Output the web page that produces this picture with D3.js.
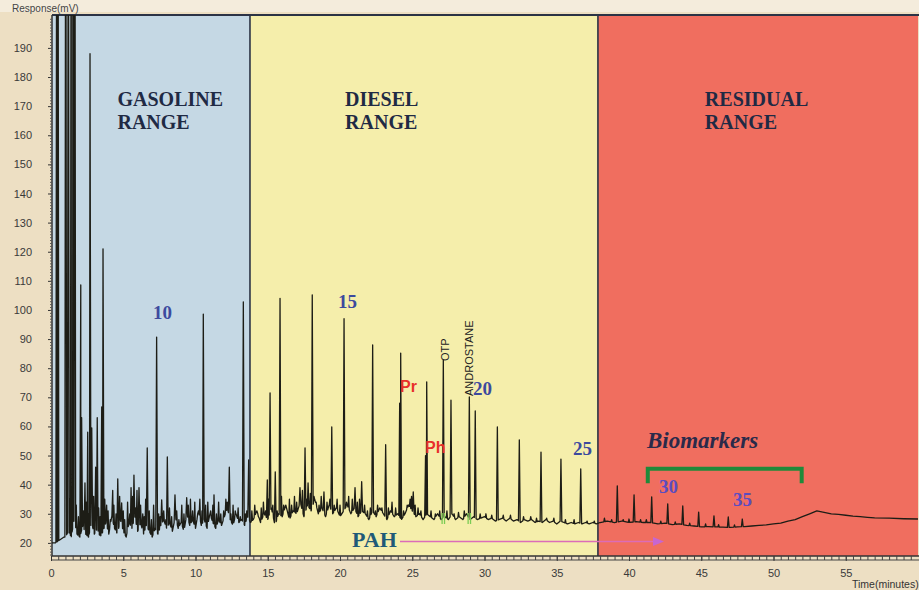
<!DOCTYPE html>
<html><head><meta charset="utf-8">
<script src="https://cdn.jsdelivr.net/npm/d3@7/dist/d3.min.js"></script>
<style>
body{margin:0;background:#efe1c6;}
svg{display:block}
</style>
</head><body>
<svg id="c" width="919" height="590"></svg>
<script>
// ---------------- DATA ----------------
const yTickValues = [20,30,40,50,60,70,80,90,100,110,120,130,140,150,160,170,180,190];
const xTickValues = [0,5,10,15,20,25,30,35,40,45,50,55];
const regionNames = [["GASOLINE","RANGE"],["DIESEL","RANGE"],["RESIDUAL","RANGE"]];
const regionStarts = [0, 13.77, 37.85];
const regionEnds = [13.77, 37.85, 60];
const carbonLabels = ["10","15","20","25","30","35"];
const compoundLabels = ["Pr","Ph"];
const rotatedLabels = ["OTP","ANDROSTANE"];

// baseline of the chromatogram [time (min), response (mV)]
const baseline = [
 [0,20],[0.3,20],[0.6,21],[0.9,22],
 [1.0,22],[1.2,24],[1.4,22],[1.6,28],[1.8,23],[2.0,22],[2.2,26],[2.4,23],[2.6,22],[2.8,27],
 [3.0,23],[3.2,25],[3.4,22],[3.6,24],[3.8,27],[4.0,23],[4.2,29],[4.4,25],[4.6,23],[4.8,28],
 [5.0,24],[5.2,22],[5.4,27],[5.6,25],[5.8,29],[6.0,24],[6.2,27],[6.4,23],[6.6,26],[6.8,24],
 [7.0,22],[7.2,25],[7.4,23],[7.6,26],[7.8,28],[8.0,25],[8.2,27],[8.4,24],[8.6,29],[8.8,25],
 [9.0,27],[9.2,24],[9.4,30],[9.6,26],[9.8,28],[10.0,25],[10.2,31],[10.4,26],[10.6,28],[10.8,25],
 [11.0,30],[11.2,27],[11.4,25],[11.6,28],[11.8,26],[12.0,29],[12.2,32],[12.4,28],[12.6,26],[12.8,30],
 [13.0,27],[13.2,28],[13.4,26],[13.6,29],[13.8,27],
 [14.0,28],[14.25,31],[14.5,27],[14.75,30],[15.0,28],[15.25,32],[15.5,26],[15.75,30],[16.0,29],[16.25,33],
 [16.5,28],[16.75,31],[17.0,30],[17.25,34],[17.5,29],[17.75,33],[18.0,31],[18.25,35],[18.5,30],[18.75,32],
 [19.0,29],[19.25,33],[19.5,30],[19.75,32],[20.0,29],[20.25,31],[20.5,33],[20.75,30],[21.0,32],[21.25,29],
 [21.5,31],[21.75,30],[22.0,28],[22.25,31],[22.5,29],[22.75,32],[23.0,30],[23.25,28],[23.5,31],[23.75,29],
 [24.0,30],[24.25,28],[24.5,30],[24.75,33],[25.0,31],[25.25,29],[25.5,30],[25.75,28],[26.0,30],[26.25,29],
 [26.5,28],[26.75,30],[27.0,28],[27.25,29],[27.5,28],[27.75,30],[28.0,28],[28.25,29],[28.5,28],[28.75,30],
 [29.0,28],[29.25,29],[29.5,28],[29.75,28.5],[30.0,29],[30.25,28],[30.5,28.5],[30.75,27.5],[31.0,28],[31.25,28.5],
 [31.5,27.5],[31.75,28.5],[32.0,27.5],[32.25,28],[32.5,27],[32.75,28],[33.0,27.5],[33.25,28],[33.5,27],[33.75,27.5],
 [34.0,27],[34.25,28],[34.5,27],[34.75,27.5],[35.0,26.5],[35.25,27.5],[35.5,27],[35.75,26.5],[36.0,27],[36.25,26.5],
 [36.5,27],[36.75,26.5],[37.0,27],[37.25,26.5],[37.5,27],[37.75,26.5],
 [38.0,27],[38.5,27.5],[39.0,27],[39.5,27.5],[40.0,27],[40.5,27.3],[41.0,27],[41.5,27],[42.0,26.5],[42.5,26.8],
 [43.0,26.3],[43.5,26.5],[44.0,26],[44.5,25.8],[45.0,25.5],[45.5,25.6],[46.0,25.5],[46.5,25.4],[47.0,25.3],[47.5,25.5],
 [48.0,25.6],[48.5,25.8],[49.0,26],[49.5,26.2],[50.0,26.5],[50.5,26.8],[51.0,27.5],[51.5,28],[52.0,29],[52.5,30],
 [53.0,31],[53.5,30.5],[54.0,30],[54.5,29.8],[55.0,29.5],[55.5,29.2],[56.0,29],[56.5,28.8],[57.0,28.6],[58.0,28.5],
 [59.0,28.3],[60.0,28.2]
];

// resolved peaks [retention time (min), apex response (mV)]; >201 = off scale
const peaks = [
 [0.4,300],[0.48,300],[1.02,300],[1.2,300],[1.4,300],[1.52,300],[1.65,300],
 [2.06,108.6],[2.12,63],[2.35,40.6],[2.54,58],[2.7,188],[2.82,59.5],[3.09,46],[3.2,63],
 [3.51,66.7],[3.6,121],[3.85,33],[4.27,38],[4.62,42],[4.89,33.7],[5.54,39],[5.74,43.3],
 [6.09,39],[6.35,30],[6.66,52.6],[7.31,90.7],[7.66,34.8],[8.05,49.5],[8.58,36.5],[9.39,35.5],
 [10.54,98.6],[11.28,36.5],[12.34,46],[13.31,102.8],[13.68,48.5],
 [14.97,41.6],[15.16,71.5],[15.52,44.4],[15.85,104],[17.23,39],[17.58,52.6],[17.79,40.6],
 [18.08,105.2],[18.89,37.5],[19.43,59.8],[20.28,97],[21.04,39],[21.5,41],[22.26,88],
 [23.16,53.7],[24.13,68],[24.2,85.2],[25.07,37.5],[25.92,50],[26.0,75.3],[27.15,82.8],
 [27.68,69],[28.95,70.1],[29.36,65.3],[30.89,59.8],[32.41,55.4],[33.91,51.2],[35.29,48.8],[36.66,45.4],
 [39.19,39.6],[40.35,36.5],[41.57,35.8],[42.68,33.4],[43.72,32.7],[44.82,30.6],[45.88,29.3],[46.87,28.9],[47.84,28.2]
];

// small unresolved peaks (noise spikes) [time (min), response (mV)]
const minorPeaks = [
 [1.3,35],[1.45,30],[1.75,33],[1.9,29],[2.25,31],[2.45,34],[2.62,30],[2.95,36],[3.3,32],[3.4,29],
 [3.72,35],[3.95,31],[4.1,28],[4.35,33],[4.5,30],[4.75,36],[5.0,31],[5.1,28],[5.3,34],[5.45,30],
 [5.65,36],[5.85,32],[5.95,38],[6.2,33],[6.45,29],[6.55,35],[6.8,31],[6.95,28],[7.1,33],[7.45,30],
 [7.55,29],[7.8,31],[7.95,28],[8.2,32],[8.35,29],[8.7,31],[8.85,28],[9.05,33],[9.2,30],[9.5,33],
 [9.65,35],[9.8,31],[9.95,34],[10.15,30],[10.3,35],[10.45,31],[10.7,33],[10.85,34],[11.05,31],[11.2,33],
 [11.45,30],[11.6,34],[11.75,30],[11.95,31],[12.1,35],[12.2,34],[12.45,30],[12.6,33],[12.75,31],[12.95,32],
 [13.1,29],[13.45,30],[13.55,31],
 [13.9,31],[14.1,33],[14.35,29],[14.55,32],[14.7,34],[14.85,31],[15.05,35],[15.35,33],[15.65,31],[15.95,36],
 [16.1,33],[16.35,31],[16.5,35],[16.65,33],[16.85,36],[17.0,34],[17.4,38],[17.7,35],[17.95,37],[18.2,36],
 [18.35,34],[18.55,33],[18.7,36],[19.1,34],[19.3,35],[19.6,33],[19.8,35],[20.0,33],[20.45,34],[20.6,36],
 [20.85,35],[21.2,34],[21.35,35],[21.7,33],[21.9,31],[22.1,32],[22.45,31],[22.6,33],[22.9,32],[23.35,32],
 [23.6,34],[23.85,32],[24.4,31],[24.65,33],[24.85,35],[24.95,36],[25.2,33],[25.4,32],[25.6,31],[26.3,31],
 [26.6,30],[26.9,31],[27.4,31],[27.9,30],[28.2,30.5],[28.6,31],[29.7,30],[30.1,30],[30.5,29.5],[31.3,29.5],
 [31.8,29.5],[32.7,29],[33.2,29],[33.6,28.5],[34.3,28.5],[34.8,28.5],[35.6,28],[36.2,28],[37.1,27.5],[37.6,27.5],
 [38.3,28.5],[38.8,28],[39.6,28],[40.0,28.2],[40.8,28],[41.2,28],[42.2,27.5],[43.2,27.2],[44.2,26.8],[45.3,26.5],
 [46.2,26.3],[47.3,26.2]
];

// ---------------- DRAW ----------------
(function(){
const svg = d3.select("#c");
const W = 919, H = 590;
const pLeft = 52, pTop = 15, pRight = 919, pBottom = 556;

const x = d3.scaleLinear().domain([0,60]).range([51,918]);
const y = d3.scaleLinear().domain([15.5,201.3]).range([556,15]);

// background bands
svg.append("rect").attr("x",0).attr("y",0).attr("width",W).attr("height",H).attr("fill","#eddfc3");
svg.append("rect").attr("x",0).attr("y",0).attr("width",W).attr("height",12).attr("fill","#f4ecdc");

const regionColors = ["#c5d8e4","#f5eeab","#f06e5f"];
regionStarts.forEach((s,i)=>{
  const x0 = Math.max(pLeft, x(s)), x1 = Math.min(pRight, x(regionEnds[i]));
  svg.append("rect").attr("x",x0).attr("y",pTop).attr("width",x1-x0).attr("height",pBottom-pTop)
    .attr("fill",regionColors[i]);
});
// region borders
[regionStarts[1], regionStarts[2]].forEach(s=>{
  svg.append("line").attr("x1",x(s)).attr("x2",x(s)).attr("y1",pTop).attr("y2",pBottom)
    .attr("stroke","#2b3345").attr("stroke-width",1.6);
});
svg.append("line").attr("x1",pLeft).attr("x2",pRight).attr("y1",pTop).attr("y2",pTop)
  .attr("stroke","#2b3345").attr("stroke-width",1.8);

// region labels
const labelT = [4.6, 20.35, 45.25];
regionNames.forEach((lines,i)=>{
  lines.forEach((ln,j)=>{
    svg.append("text").attr("x",x(labelT[i])).attr("y",106+j*23)
      .attr("font-family","'Liberation Serif','Times New Roman',serif").attr("font-weight","bold")
      .attr("font-size",20).attr("fill","#1f2a44").text(ln);
  });
});

// axes
const yAxis = svg.append("g").attr("transform",`translate(${pLeft},0)`)
  .call(d3.axisLeft(y).tickValues(yTickValues).tickSize(4).tickPadding(16));
yAxis.selectAll("text").attr("font-family","'Liberation Sans',Arial,sans-serif").attr("font-size",11).attr("fill","#3a3a3a");
yAxis.select(".domain").attr("stroke","#333").attr("stroke-width",1.5).attr("d",`M0,${pTop}V${pBottom}`);
yAxis.selectAll(".tick line").attr("stroke","#333");
const yMinor = d3.range(16,201,1);
svg.append("g").attr("transform",`translate(${pLeft},0)`)
  .call(d3.axisLeft(y).tickValues(yMinor).tickSize(2).tickFormat(""))
  .call(g=>g.select(".domain").remove())
  .selectAll("line").attr("stroke","#555");

const xAxis = svg.append("g").attr("transform",`translate(0,${pBottom})`)
  .call(d3.axisBottom(x).tickValues(xTickValues).tickSize(5).tickPadding(8));
xAxis.selectAll("text").attr("font-family","'Liberation Sans',Arial,sans-serif").attr("font-size",11).attr("fill","#3a3a3a");
xAxis.select(".domain").attr("stroke","#333").attr("stroke-width",1.5).attr("d",`M${pLeft},0H${pRight}`);
xAxis.selectAll(".tick line").attr("stroke","#333");
svg.append("g").attr("transform",`translate(0,${pBottom})`)
  .call(d3.axisBottom(x).tickValues(d3.range(0.5,60,0.5)).tickSize(4).tickFormat(""))
  .call(g=>g.select(".domain").remove())
  .selectAll("line").attr("stroke","#444");
svg.append("line").attr("x1",pLeft).attr("x2",pRight).attr("y1",pBottom+4).attr("y2",pBottom+4)
  .attr("stroke","#444").attr("stroke-width",1);

// axis titles
svg.append("text").attr("x",12).attr("y",12).attr("font-family","'Liberation Sans',Arial,sans-serif")
  .attr("font-size",10).attr("fill","#444").text("Response(mV)");
svg.append("text").attr("x",852).attr("y",588).attr("font-family","'Liberation Sans',Arial,sans-serif")
  .attr("font-size",10.5).attr("fill","#333").text("Time(minutes)");

// chromatogram trace
const bis = d3.bisector(d=>d[0]).left;
function baseAt(t){
  const i = bis(baseline,t);
  if(i<=0) return baseline[0][1];
  if(i>=baseline.length) return baseline[baseline.length-1][1];
  const a = baseline[i-1], b = baseline[i];
  return a[1] + (b[1]-a[1])*(t-a[0])/(b[0]-a[0]);
}
const w = 0.06, wm = 0.045;
const allPeaks = peaks.map(p=>[p[0],p[1],w]).concat(minorPeaks.map(p=>[p[0],p[1],wm]));
let pts = baseline.filter(b=>!allPeaks.some(p=>Math.abs(b[0]-p[0])<=p[2]));
allPeaks.forEach(p=>{
  pts.push([p[0]-p[2], baseAt(p[0]-p[2])],[p[0],p[1]],[p[0]+p[2], baseAt(p[0]+p[2])]);
});
pts.sort((a,b)=>a[0]-b[0]);

svg.append("clipPath").attr("id","clip").append("rect")
  .attr("x",pLeft).attr("y",pTop).attr("width",pRight-pLeft).attr("height",pBottom-pTop);
svg.append("path").datum(pts).attr("clip-path","url(#clip)")
  .attr("fill","none").attr("stroke","#1d1d16").attr("stroke-width",1.3).attr("stroke-linejoin","round")
  .attr("d",d3.line().x(d=>x(d[0])).y(d=>y(d[1])));

// carbon number labels
const carbonPos = [[153,319],[338,308],[473,395],[573,455],[659,493],[733,506]];
carbonLabels.forEach((c,i)=>{
  svg.append("text").attr("x",carbonPos[i][0]).attr("y",carbonPos[i][1])
    .attr("font-family","'Liberation Serif','Times New Roman',serif").attr("font-weight","bold")
    .attr("font-size",19).attr("fill", i<4 ? "#3c4a9e" : "#5a4cc0").text(c);
});

// Pr / Ph
const compPos = [[400,392],[425,453]];
compoundLabels.forEach((c,i)=>{
  svg.append("text").attr("x",compPos[i][0]).attr("y",compPos[i][1])
    .attr("font-family","'Liberation Sans',Arial,sans-serif").attr("font-weight","bold")
    .attr("font-size",16).attr("fill","#e8302a").text(c);
});

// rotated labels OTP / ANDROSTANE
const rotPos = [[449,361],[473,396]];
rotatedLabels.forEach((c,i)=>{
  svg.append("text").attr("transform",`translate(${rotPos[i][0]},${rotPos[i][1]}) rotate(-90)`)
    .attr("font-family","'Liberation Sans',Arial,sans-serif")
    .attr("font-size",11).attr("fill","#222").text(c);
});

// green markers under OTP and androstane
[27.15, 28.95].forEach(t=>{
  [-1.2,1.2].forEach(o=>{
    svg.append("line").attr("x1",x(t)+o).attr("x2",x(t)+o).attr("y1",513).attr("y2",524)
      .attr("stroke","#7ccc55").attr("stroke-width",1.3);
  });
});

// Biomarkers bracket
const bx0 = x(41.3), bx1 = x(51.95), byT = y(45.5), byB = y(40.5);
svg.append("path").attr("d",`M${bx0},${byB}V${byT}H${bx1}V${byB}`)
  .attr("fill","none").attr("stroke","#1f8a3a").attr("stroke-width",4);
svg.append("text").attr("x",647).attr("y",448)
  .attr("font-family","'Liberation Serif','Times New Roman',serif").attr("font-weight","bold")
  .attr("font-style","italic").attr("font-size",23).attr("fill","#2a2a4a").text("Biomarkers");

// PAH arrow
svg.append("text").attr("x",352).attr("y",547)
  .attr("font-family","'Liberation Serif','Times New Roman',serif").attr("font-weight","bold")
  .attr("font-size",22).attr("fill","#1f5a78").text("PAH");
svg.append("line").attr("x1",400).attr("x2",655).attr("y1",541.5).attr("y2",541.5)
  .attr("stroke","#dc6cb8").attr("stroke-width",1.6);
svg.append("path").attr("d","M664,541.5L653,537L653,546Z").attr("fill","#c766d0");
})();
</script>
</body></html>
